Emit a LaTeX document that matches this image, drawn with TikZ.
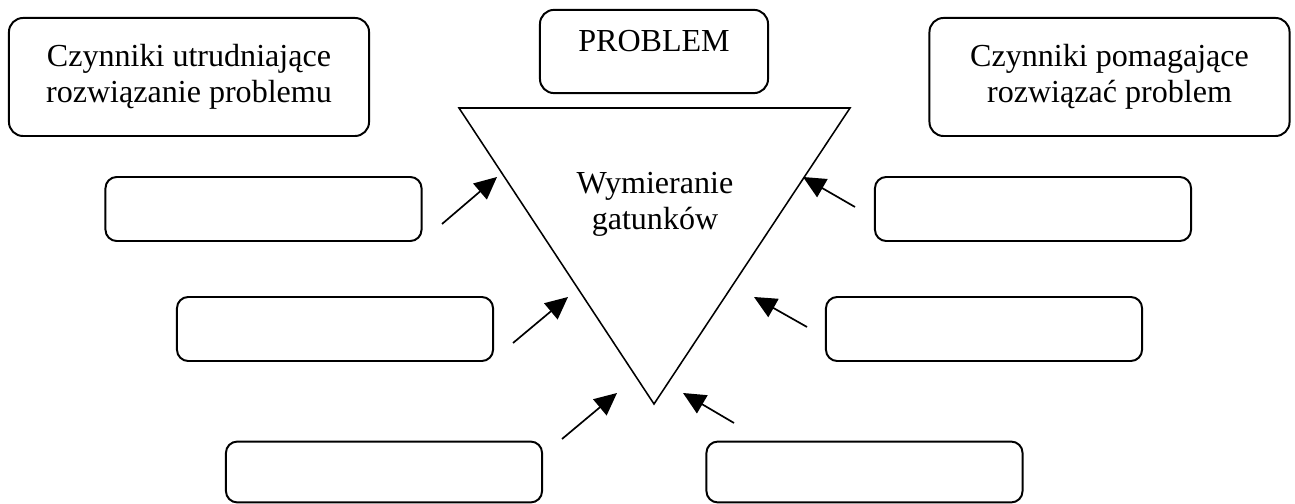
\documentclass[tikz,border=0pt]{standalone}
\usepackage{fontspec}
\setmainfont{Liberation Serif}
\usetikzlibrary{arrows.meta}
\tikzset{
  headbox/.style={draw, line width=0.7pt, rounded corners=5pt, align=center,
    minimum width=4.5cm, minimum height=1.475cm, inner sep=0pt},
  factorbox/.style={draw, line width=0.7pt, rounded corners=4pt,
    minimum width=3.95cm, minimum height=0.8cm, inner sep=0pt},
  pointer/.style={line width=0.6pt, -{Triangle[length=0.28cm, width=0.26cm]}}
}
\begin{document}
\begin{tikzpicture}[x=0.0125cm, y=-0.0125cm,
  every node/.style={font=\fontsize{11.4pt}{12.8pt}\selectfont}]
\useasboundingbox (0,0) rectangle (1295,504);

% Headers
\node[headbox] (hinder) at (189,77) {Czynniki utrudniające\\rozwiązanie problemu};
\node[headbox] (help) at (1109.5,77) {Czynniki pomagające\\rozwiązać problem};
\node[draw, line width=0.7pt, rounded corners=5pt, minimum width=2.85cm, minimum height=1.04cm,
  inner sep=0pt, label={[yshift=0.125cm]center:PROBLEM}] (problem) at (654,51.5) {};

% Triangle with the problem
\coordinate (tl) at (459,108);
\coordinate (tr) at (850,108);
\coordinate (apex) at (654,404);
\draw[line width=0.55pt] (tl) -- (tr) -- (apex) -- cycle;
\node[align=center] (topic) at (655,204) {Wymieranie\\gatunków};

% Empty boxes, left and right
\node[factorbox] (l1) at (263.5,209) {};
\node[factorbox] (l2) at (335,329) {};
\node[factorbox, minimum height=0.76cm] (l3) at (384,472) {};
\node[factorbox] (r1) at (1033,209) {};
\node[factorbox] (r2) at (984,329) {};
\node[factorbox, minimum height=0.76cm] (r3) at (864.5,472) {};

% Arrows towards the triangle
\coordinate (l1s) at (442,224); \coordinate (l1e) at (497,177);
\coordinate (l2s) at (513,343); \coordinate (l2e) at (568,297);
\coordinate (l3s) at (562,439); \coordinate (l3e) at (617,393);
\coordinate (r1s) at (855,207); \coordinate (r1e) at (803,177);
\coordinate (r2s) at (807,327); \coordinate (r2e) at (754,297);
\coordinate (r3s) at (734,423); \coordinate (r3e) at (683,393);
\foreach \a in {l1,l2,l3,r1,r2,r3}
  \draw[pointer] (\a s) -- (\a e);
\end{tikzpicture}
\end{document}
